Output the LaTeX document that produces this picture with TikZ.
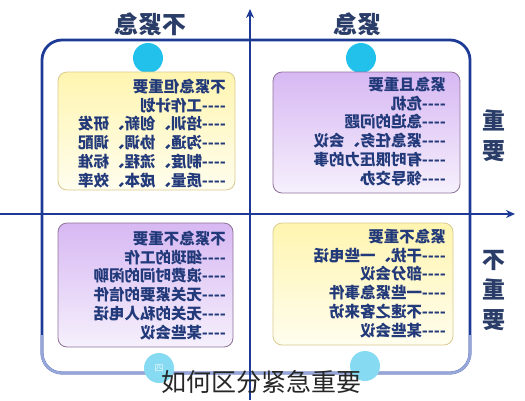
\documentclass[tikz,border=0pt]{standalone}
\usepackage{fontspec}
\newfontfamily\cjk{Noto Sans CJK SC}
\usetikzlibrary{arrows.meta, positioning}

\definecolor{navy}{HTML}{1C3A96}
\definecolor{navylow}{HTML}{97A6D9}
\definecolor{inktext}{HTML}{22397A}
\definecolor{headtext}{HTML}{2A3C68}
\definecolor{dotcyan}{HTML}{22C1EC}
\definecolor{dotpale}{HTML}{86DAF1}
\definecolor{lavtop}{HTML}{D7B8F3}
\definecolor{lavbot}{HTML}{F6F0FC}
\definecolor{lavline}{HTML}{8E7299}
\definecolor{yeltop}{HTML}{FFF5B0}
\definecolor{yelbot}{HTML}{FFFDEE}
\definecolor{yelline}{HTML}{D9CB90}

\begin{document}
\begin{tikzpicture}[
  x=1pt, y=-1pt,
  mirror/.style={xscale=-1},
  frame/.style={draw=navy, line width=2.8pt, rounded corners=20pt},
  axis/.style={draw=navy, line width=2.6pt, -{Stealth[length=9pt, width=8pt]}},
  title/.style={mirror, font=\cjk\bfseries\fontsize{24}{28}\selectfont, text=headtext},
  side/.style={mirror, align=center, font=\cjk\bfseries\fontsize{23}{30}\selectfont, text=headtext},
  dot/.style={circle, minimum size=30pt, inner sep=0pt},
  ybox/.style={rectangle, rounded corners=9pt, draw=yelline, line width=0.8pt,
               top color=yeltop, bottom color=yelbot},
  pbox/.style={rectangle, rounded corners=9pt, draw=lavline, line width=0.8pt,
               top color=lavtop, bottom color=lavbot},
  list/.style={mirror, anchor=north west, inner sep=0pt, align=left, text=inktext,
               font=\cjk\bfseries\fontsize{15.5}{18.7}\selectfont},
]
  \useasboundingbox (0,0) rectangle (525,400);

  % Frame
  \draw[frame] (42,40) rectangle (470,373);
  \draw[frame, draw=navylow] (42,335) -- (42,373) -- (470,373) -- (470,335);

  % Dots
  \node[dot, fill=dotcyan] (d1) at (148,58)  {};
  \node[dot, fill=dotcyan] (d2) at (361,58)  {};
  \node[dot, fill=dotpale, text=white!80!dotpale, font=\cjk\small] (d4) at (159,368) {四};
  \node[dot, fill=dotpale] (d3) at (365,366) {};

  % Quadrant boxes
  \node[ybox, minimum width=177pt, minimum height=118pt] (qtl) at (146.5,131) {};
  \node[pbox, minimum width=187pt, minimum height=121pt] (qtr) at (366.5,132.5) {};
  \node[pbox, minimum width=175pt, minimum height=124pt] (qbl) at (145.5,285) {};
  \node[ybox, minimum width=180pt, minimum height=122pt] (qbr) at (363,284) {};

  % Lists
  \node[list] (ltl) at (226,79) {不紧急但重要\\----工作计划\\----培训、创新、研发\\----沟通、协调、调配\\----制度、流程、标准\\----质量、成本、效率};
  \node[list] (ltr) at (446,77) {紧急且重要\\----危机\\----急迫的问题\\----紧急任务、会议\\----有时限压力的事\\----领导交办};
  \node[list] (lbl) at (226,231) {不紧急不重要\\----细琐的工作\\----浪费时间的闲聊\\----无关紧要的信件\\----无关的私人电话\\----某些会议};
  \node[list] (lbr) at (446,229) {紧急不重要\\----干扰、一些电话\\----部分会议\\----一些紧急事件\\----不速之客来访\\----某些会议};

  % Axes
  \coordinate (xs) at (0,214);
  \coordinate (xe) at (515,214);
  \coordinate (ys) at (250,400);
  \coordinate (ye) at (250,9);
  \draw[axis] (xs) -- (xe);
  \draw[axis] (ys) -- (ye);

  % Labels
  \node[title] (tnu) at (150,24) {不紧急};
  \node[title] (tu)  at (357,24) {紧急};
  \node[side]  (si)  at (494,136) {重\\要};
  \node[side]  (sni) at (494,291) {不\\重\\要};

  % Caption
  \node[font=\cjk\fontsize{25}{28}\selectfont, text=black!85] (cap) at (261,382) {如何区分紧急重要};
\end{tikzpicture}
\end{document}
